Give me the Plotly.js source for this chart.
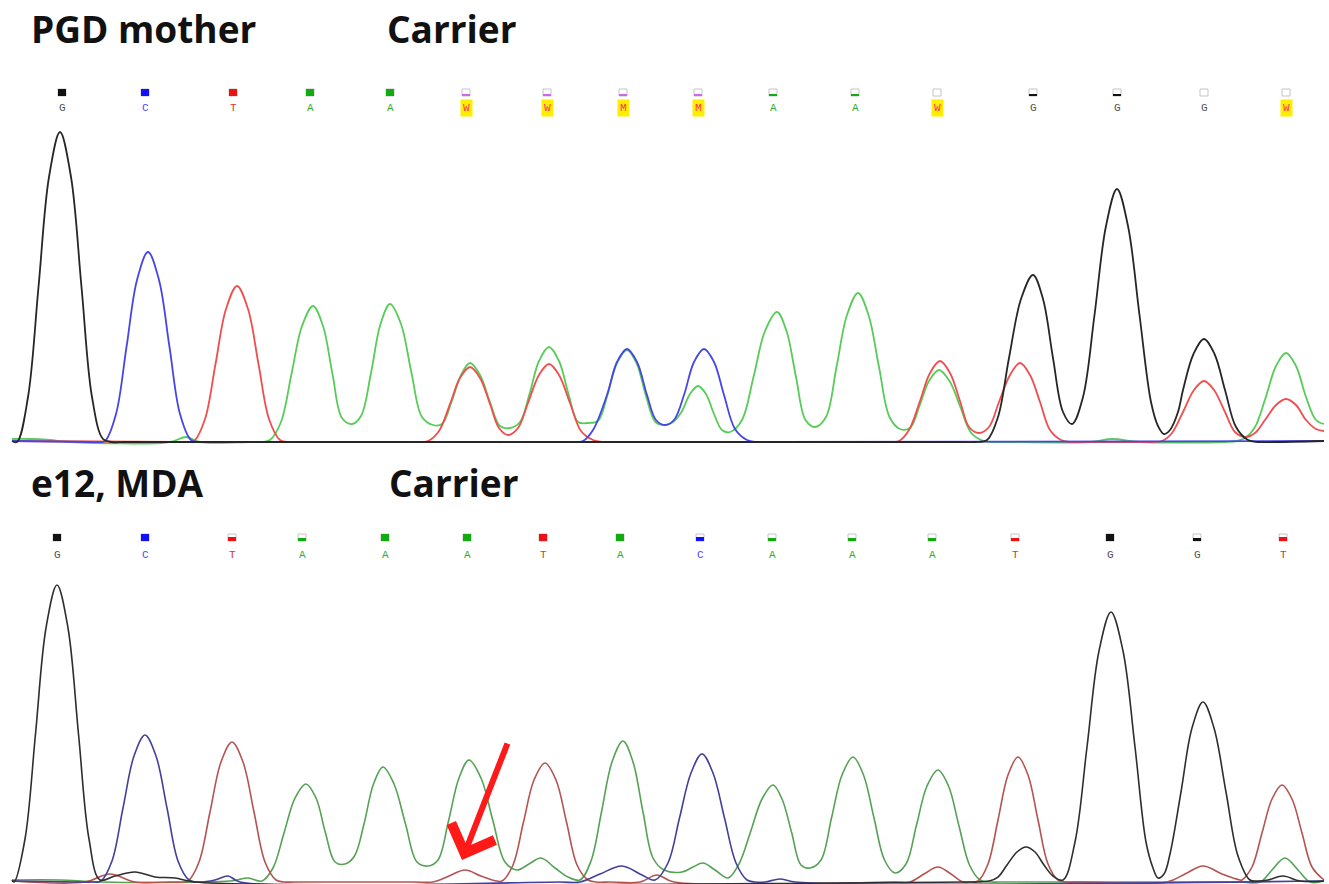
<!DOCTYPE html>
<html><head><meta charset="utf-8">
<script src="https://cdn.plot.ly/plotly-3.0.1.min.js"></script>
<style>html,body{margin:0;padding:0;background:#fff;}#chart{width:1329px;height:884px;}</style>
</head><body><div id="chart"></div>
<script>
// ---------- Base calls ----------
const topCalls = ['G','C','T','A','A','W','W','M','M','A','A','W','G','G','G','W'];
const topCallX = [62,145,233,310,390,466,547,623,698,773,855,937,1033,1117,1204,1286];
const topQual  = [1,1,1,1,1,0.3,0.3,0.3,0.3,0.25,0.25,0,0.3,0.3,0,0];
const botCalls = ['G','C','T','A','A','A','T','A','C','A','A','A','T','G','G','T'];
const botCallX = [57,145,232,302,385,467,543,620,700,772,852,932,1015,1110,1197,1283];
const botQual  = [1,1,0.6,0.45,1,1,1,1,0.6,0.5,0.5,0.5,0.5,1,0.5,0.6];

// ---------- Top trace (PGD mother) ----------
const topGx = [12,17,28,38.5,49,60,71,81.5,92,103,112,125,960,975,987,998,1009,1021,1033,1043,1053,1063,1072,1083,1094.5,1106,1117,1128,1139.5,1151,1158,1164,1170,1178,1183,1193.5,1204,1214.5,1225,1236,1248,1258,1275,1324];
const topGy = [1,0,45,155,265,310,265,155,45,3,0,0,0,0,2,25,84,143,167,143,84,30,18,45,127,216,253,216,127,40,16,8,12,30,52,88,103,88,52,15,2,0,0,1];
const topCx = [12,90,97,105,116,126.5,137,148,159,169.5,180,191,200,215,560,572,583,593,607,617,627,637,647,656,665,674,684,694,704,714,724,735,747,756,770,1324];
const topCy = [1,0,0,1,28,95,162,190,162,95,28,2,0,0,0,0,1,12,47,80,93,80,47,22,17,22,47,80,93,80,47,13,2,0,0,1];
const topTx = [12,175,185,194,205,215.5,226,237,248,258.5,269,280,289,300,405,418,428,439,450,460,470,480,490,499,508,518,528,539,549,559,570,581,593,602,615,880,890,899,909,920,930,940,950,960,969,979,989,999,1010,1020,1030,1040,1050,1061,1070,1085,1140,1152,1162,1172,1183,1194,1204,1214,1225,1235,1245,1255,1265,1276,1286,1296,1306,1316,1324];
const topTy = [1,0,0,1,23,78,133,156,133,78,23,2,0,0,0,0,1,11,38,64,75,64,38,14,7,14,39,67,78,67,39,11,2,0,0,0,0,1,12,41,69,81,69,41,15,9,15,40,67,79,67,40,12,2,0,0,0,0,1,9,30,52,61,52,30,10,5,9,22,37,43,37,22,13,11];
const topAx = [12,30,50,70,170,186,200,250,262,270,281,291.5,302,313,323,332.5,342,352,361,371,380.5,390,401,411.5,422,433,442,451.5,461,470,480,490,500,510,520,529.5,539,549,559,568.5,578,588,598,607.5,617,627,636.5,646,655.5,665,673,681.5,690,698,706,714,722,730,742,753.5,765,777,786.5,796,805.5,815,826,836.5,847,858,868.5,879,889.5,900,910,919.5,929,939,949.5,960,970.5,981,990,1000,1090,1112,1140,1225,1237,1245,1255,1265.5,1276,1286,1296,1306,1316,1324];
const topAy = [3,3,2,0,0,5,0,0,0,2,20,68,116,136,116,68,24,18,26,69,118,138,118,69,25,17,18,40,67,79,67,40,16,14,20,48,81,95,81,48,20,19,21,47,79,92,79,46,20,17,20,30,48,56,48,28,12,10,22,65,111,130,111,65,22,15,25,75,127,149,127,75,25,13,14,36,61,72,61,36,10,2,0,0,0,3,0,0,1,4,15,44,76,89,76,45,22,18];

// ---------- Bottom trace (e12, MDA) ----------
const botGx = [12,14,25,35.5,46,57,68,78.5,89,100,115,135,155,175,195,965,978,989,998,1007,1017,1026,1035,1044,1053,1063,1075,1087,1099,1111,1123,1135,1146,1153,1158,1164,1170,1181,1192,1203,1214,1226,1238,1250,1258,1268,1283,1300,1324];
const botGy = [2,0,43,148,254,297,254,148,43,2,6,10,5,4,0,0,0,1,5,17,30,35,30,17,6,2,40,135,231,270,231,135,40,14,4,8,28,90,154,180,154,90,26,2,1,2,6,1,1];
const botCx = [12,80,92,101,112,123,134,145,156,167,178,189,197,215,228,240,560,580,600,622,642,655,668,679.5,691,702,713,724.5,736,747,755,765,780,795,1324];
const botCy = [1,0,0,1,21,74,126,147,126,74,21,2,0,2,6,0,0,0,8,16,7,2,19,64,109,128,109,64,19,2,0,0,3,0,1];
const botTx = [12,85,110,135,170,180,188,199,210,221,232,243,254,265,276,284,295,415,433,449,465,481,497,502,513,523.5,534,545,556,566.5,577,588,596,610,640,657,674,895,910,924,938,951,963,970,978,988,998,1008,1018,1028,1038,1048,1058,1066,1080,1167,1185,1203,1222,1240,1242,1252,1262,1272,1282,1292,1302,1312,1324];
const botTy = [1,0,8,0,0,0,1,20,70,120,140,120,70,20,2,0,0,0,0,6,12,6,1,1,17,60,102,119,102,60,17,2,0,0,0,7,0,0,0,8,15,8,0,0,1,18,62,107,125,107,62,18,2,0,0,0,8,16,8,2,2,15,49,83,97,83,49,15,2];
const botAx = [12,60,100,230,248,262,273,284,295,306,316,325.5,335,345,354.5,364,373.5,383,394,405.5,417,428,438,448.5,459,469,481,493,505,517,529,541,555,568,580,591,601.5,612,623,633,643,653,664,682,693,703,715,728,739,750.5,762,773,782,791.5,801,810,821,831.5,842,853,863.5,874,884.5,895,906,916.5,927,938,948.5,959,969.5,980,990,1000,1240,1260,1272,1285,1298,1310,1324];
const botAy = [2,2,0,1,4,1,14,49,84,98,84,49,20,18,26,58,98,115,98,58,20,16,22,61,104,122,104,61,20,12,18,24,14,5,2,21,70,120,141,120,70,24,12,10,15,19,12,4,18,50,83,97,83,50,17,14,22,64,107,125,107,64,22,9,18,57,96,112,96,56,17,2,0,0,0,0,12,24,12,0,1];

// ---------- Titles ----------
const topLabels = ['PGD mother','Carrier'];
const topLabelX = [29,385];
const botLabels = ['e12, MDA','Carrier'];
const botLabelX = [29,387];

const arrowTip = [462, 22];
const arrowTail = [508, 140];

// ---------- Styles ----------
const topCol = {G:'#262626', C:'#4646e6', T:'#f04e4e', A:'#58cc58'};
const botCol = {G:'#2e2e2e', C:'#42409a', T:'#b45350', A:'#55a255'};
const qualCol = {G:'#111111', C:'#1010ff', T:'#ee1111', A:'#11aa11', W:'#cc66ee', M:'#cc66ee'};
const letterCol = {G:'#505050', C:'#4a4aff', T:'#dd3333', A:'#33aa33', W:'#ff3060', M:'#ff3060'};

const traces = [];
function line(x, y, col, ya, w) {
  traces.push({type:'scatter', mode:'lines', x:x, y:y, xaxis:'x', yaxis:ya,
    line:{color:col, width:w, shape:'spline', smoothing:1}, hoverinfo:'skip'});
}
line(topAx, topAy, topCol.A, 'y', 1.8);
line(topTx, topTy, topCol.T, 'y', 1.8);
line(topCx, topCy, topCol.C, 'y', 1.8);
line(topGx, topGy, topCol.G, 'y', 1.8);
line(botAx, botAy, botCol.A, 'y2', 1.6);
line(botTx, botTy, botCol.T, 'y2', 1.6);
line(botCx, botCy, botCol.C, 'y2', 1.6);
line(botGx, botGy, botCol.G, 'y2', 1.6);

// quality squares
function quality(xs, calls, q, base, ya) {
  traces.push({type:'bar', x:xs, y:xs.map(()=>7), base:base, width:8, yaxis:ya,
    marker:{color:'#ffffff', line:{color:'#c4c4c4', width:1}}, hoverinfo:'skip'});
  traces.push({type:'bar', x:xs, y:q.map(v=>v*7), base:base, width:8, yaxis:ya,
    marker:{color:calls.map(c=>qualCol[c]), line:{width:0}}, hoverinfo:'skip'});
}
quality(topCallX, topCalls, topQual, 346, 'y');
quality(botCallX, botCalls, botQual, 341, 'y2');

const ann = [];
function letters(xs, calls, yv, yref) {
  xs.forEach((x,i)=>{
    const c = calls[i];
    const amb = (c==='W' || c==='M');
    ann.push({x:x, y:yv, xref:'x', yref:yref, text:c, showarrow:false,
      font:{family:'Liberation Mono, monospace', size:11, color:letterCol[c]},
      bgcolor: amb ? '#ffee00' : 'rgba(0,0,0,0)', borderpad: amb ? 2 : 0});
  });
}
letters(topCallX, topCalls, 334, 'y');
letters(botCallX, botCalls, 327, 'y2');

topLabels.forEach((t,i)=>ann.push({x:topLabelX[i], y:414, xref:'x', yref:'y', xanchor:'left', text:'<b>'+t+'</b>',
  showarrow:false, font:{family:'Open Sans, sans-serif', size:37, color:'#111'}}));
botLabels.forEach((t,i)=>ann.push({x:botLabelX[i], y:400, xref:'x', yref:'y2', xanchor:'left', text:'<b>'+t+'</b>',
  showarrow:false, font:{family:'Open Sans, sans-serif', size:37, color:'#111'}}));

ann.push({x:arrowTip[0], y:arrowTip[1], xref:'x', yref:'y2', ax:arrowTail[0], ay:arrowTail[1], axref:'x', ayref:'y2',
  text:'', showarrow:true, arrowhead:4, arrowsize:1.5, arrowwidth:6, arrowcolor:'#ff1a1a'});

const hidden = {showgrid:false, zeroline:false, showticklabels:false, ticks:'', showline:false, fixedrange:true};
const layout = {
  width:1329, height:884, autosize:false,
  margin:{l:0, r:0, t:0, b:0, pad:0},
  paper_bgcolor:'#ffffff', plot_bgcolor:'#ffffff',
  showlegend:false, barmode:'overlay', bargap:0,
  xaxis:Object.assign({range:[0,1329], domain:[0,1]}, hidden),
  yaxis:Object.assign({range:[-5,442], domain:[0.49434,1]}, hidden),
  yaxis2:Object.assign({range:[-2,435], domain:[0,0.49434], anchor:'x'}, hidden),
  annotations:ann
};
Plotly.newPlot('chart', traces, layout, {staticPlot:true, displayModeBar:false});
</script></body></html>
